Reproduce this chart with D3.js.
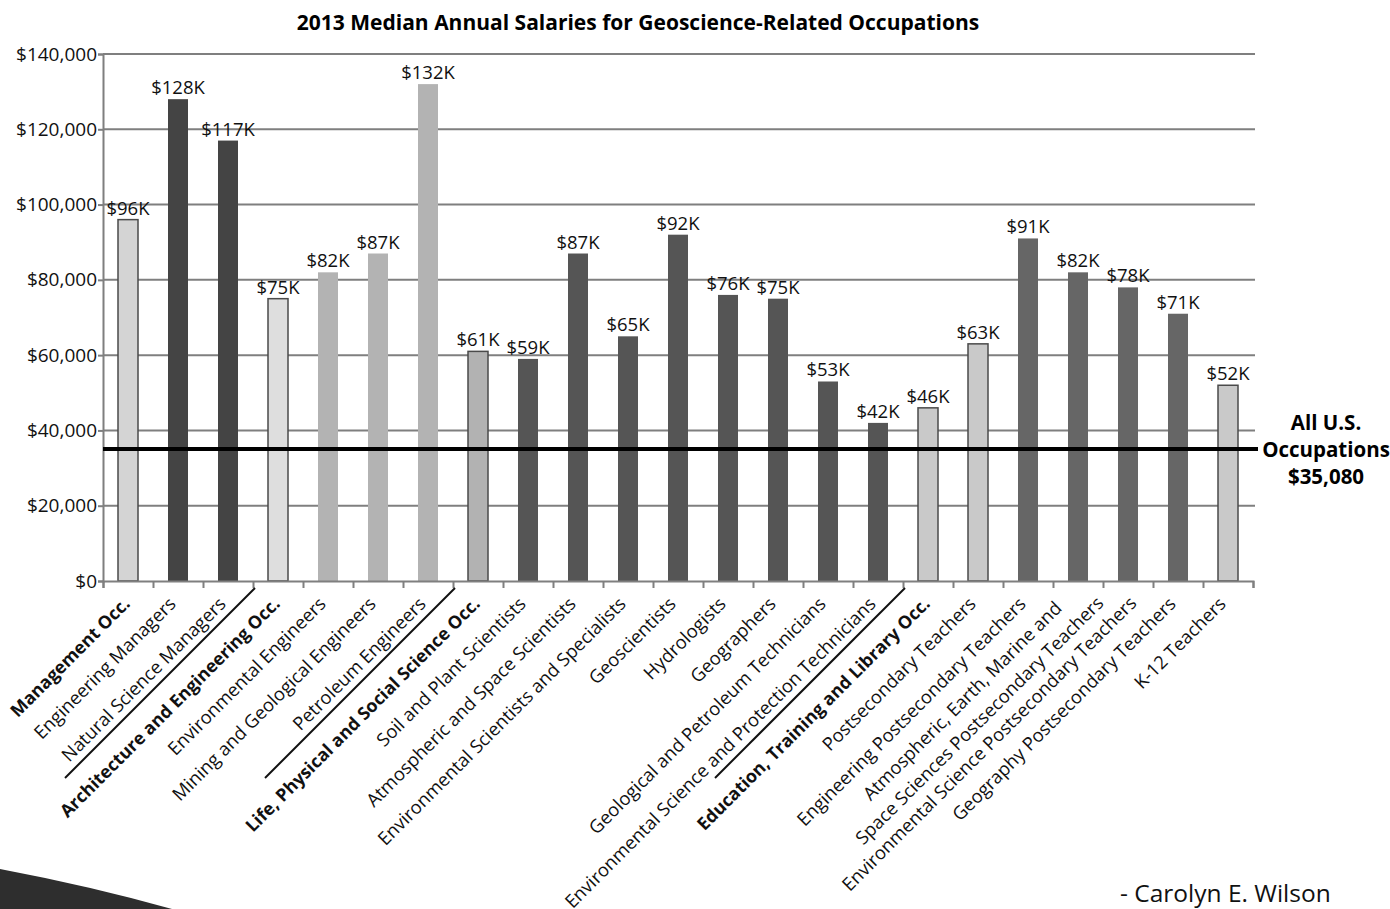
<!DOCTYPE html>
<html>
<head>
<meta charset="utf-8">
<script src="https://cdn.jsdelivr.net/npm/d3@7"></script>
<style>
  body { margin: 0; background: #fff; }
  svg { display: block; font-family: "Open Sans", "Noto Sans", sans-serif; }
</style>
</head>
<body>
<div id="chart-container"></div>
<script>
/**************************************************
 * Data
 **************************************************/

// Occupation categories, in display order
const occupations = [
  "Management Occ.",
  "Engineering Managers",
  "Natural Science Managers",
  "Architecture and Engineering Occ.",
  "Environmental Engineers",
  "Mining and Geological Engineers",
  "Petroleum Engineers",
  "Life, Physical and Social Science Occ.",
  "Soil and Plant Scientists",
  "Atmospheric and Space Scientists",
  "Environmental Scientists and Specialists",
  "Geoscientists",
  "Hydrologists",
  "Geographers",
  "Geological and Petroleum Technicians",
  "Environmental Science and Protection Technicians",
  "Education, Training and Library Occ.",
  "Postsecondary Teachers",
  "Engineering Postsecondary Teachers",
  "Atmospheric, Earth, Marine and Space Sciences Postsecondary Teachers",
  "Environmental Science Postsecondary Teachers",
  "Geography Postsecondary Teachers",
  "K-12 Teachers"
];

// Median annual salary, USD (2013)
const salaries = [
  96000, 128000, 117000,
  75000, 82000, 87000, 132000,
  61000, 59000, 87000, 65000, 92000, 76000, 75000, 53000, 42000,
  46000, 63000, 91000, 82000, 78000, 71000, 52000
];

// Occupation group of each category (index into groupNames)
const groupNames = ["Management", "Architecture and Engineering", "Life, Physical and Social Science", "Education, Training and Library"];
const groupOf = [0, 0, 0, 1, 1, 1, 1, 2, 2, 2, 2, 2, 2, 2, 2, 2, 3, 3, 3, 3, 3, 3, 3];

// Level of each category: major group, summary sub-group, detailed occupation
const levels = [
  "major", "detail", "detail",
  "major", "detail", "detail", "detail",
  "major", "detail", "detail", "detail", "detail", "detail", "detail", "detail", "detail",
  "major", "summary", "detail", "detail", "detail", "detail", "summary"
];

const yTicks = [0, 20000, 40000, 60000, 80000, 100000, 120000, 140000];
const allOccupations = 35080;

/**************************************************
 * Rendering
 **************************************************/

const width = 1390, height = 909;
const margin = { left: 103, right: 137, top: 54, bottom: 328 };
const plotRight = width - margin.right;
const plotBottom = height - margin.bottom;

const svg = d3.select("#chart-container")
  .append("svg")
  .attr("width", width)
  .attr("height", height);

const idx = d3.range(occupations.length);

const xScale = d3.scaleBand()
  .domain(idx)
  .range([margin.left, plotRight])
  .paddingInner(0.6)
  .paddingOuter(0.3);

// boundaries between categories, for tick marks and separators
const xEdge = d3.scaleLinear()
  .domain([0, occupations.length])
  .range([margin.left, plotRight]);

const yScale = d3.scaleLinear()
  .domain([0, 140000])
  .range([plotBottom, margin.top]);

// bar shading per group and level
const detailFill = ["#444444", "#b3b3b3", "#555555", "#666666"];
const majorFill = ["#d4d4d4", "#dedede", "#b2b2b2", "#c9c9c9"];
function barFill(i) {
  if (levels[i] === "detail") return detailFill[groupOf[i]];
  return majorFill[groupOf[i]];
}

// Title
svg.append("text")
  .attr("x", 638)
  .attr("y", 30)
  .attr("text-anchor", "middle")
  .attr("font-size", "21px")
  .attr("font-weight", "bold")
  .text("2013 Median Annual Salaries for Geoscience-Related Occupations");

// Gridlines
svg.append("g")
  .selectAll("line")
  .data(yTicks.slice(1))
  .enter()
  .append("line")
  .attr("x1", margin.left)
  .attr("x2", plotRight + 2)
  .attr("y1", d => yScale(d))
  .attr("y2", d => yScale(d))
  .attr("stroke", "#7f7f7f")
  .attr("stroke-width", 2);

// Y axis
const yAxis = d3.axisLeft(yScale)
  .tickValues(yTicks)
  .tickSize(5)
  .tickPadding(1)
  .tickFormat(d => "$" + d3.format(",")(d));

const gy = svg.append("g")
  .attr("transform", `translate(${margin.left},0)`)
  .call(yAxis);
gy.select(".domain").attr("stroke", "#7f7f7f").attr("stroke-width", 2);
gy.selectAll(".tick line").attr("stroke", "#7f7f7f").attr("stroke-width", 2);
gy.selectAll(".tick text")
  .attr("font-size", "19px")
  .attr("font-family", "Open Sans, sans-serif")
  .attr("fill", "#111");

// Bars
svg.append("g")
  .selectAll("rect")
  .data(idx)
  .enter()
  .append("rect")
  .attr("x", i => xScale(i))
  .attr("y", i => yScale(salaries[i]))
  .attr("width", xScale.bandwidth())
  .attr("height", i => plotBottom - yScale(salaries[i]))
  .attr("fill", barFill)
  .attr("stroke", i => levels[i] === "detail" ? "none" : "#4a4a4a")
  .attr("stroke-width", 1.5);

// Value labels
svg.append("g")
  .selectAll("text")
  .data(idx)
  .enter()
  .append("text")
  .attr("x", i => xScale(i) + xScale.bandwidth() / 2)
  .attr("y", i => yScale(salaries[i]) - 5)
  .attr("text-anchor", "middle")
  .attr("font-size", "18.5px")
  .attr("fill", "#111")
  .text(i => "$" + Math.round(salaries[i] / 1000) + "K");

// X axis with ticks at category boundaries
const xAxis = d3.axisBottom(xEdge)
  .tickValues(d3.range(occupations.length + 1))
  .tickSize(7)
  .tickFormat("");

const gx = svg.append("g")
  .attr("transform", `translate(0,${plotBottom})`)
  .call(xAxis);
gx.select(".domain").attr("stroke", "#7f7f7f").attr("stroke-width", 2);
gx.selectAll(".tick line").attr("stroke", "#7f7f7f").attr("stroke-width", 2);

// Rotated category labels
// the crowded teacher labels are nudged along / across the text direction
const labelNudge = { 20: [8, 7] };

svg.append("g")
  .selectAll("text")
  .data(idx)
  .enter()
  .append("text")
  .attr("transform", i => `translate(${xScale(i) + xScale.bandwidth() / 2 + (levels[i] === "major" ? 3 : -1)},${plotBottom + 24}) rotate(-45)`)
  .attr("text-anchor", "end")
  .attr("font-size", i => levels[i] === "major" ? "17.8px" : "18.4px")
  .attr("font-weight", i => levels[i] === "major" ? "bold" : "normal")
  .attr("fill", "#111")
  .each(function(i) {
    const name = occupations[i];
    const t = d3.select(this);
    // the long teacher label wraps onto two lines in the original
    if (name.startsWith("Atmospheric, Earth")) {
      t.append("tspan").attr("x", -13).attr("y", -7).text("Atmospheric, Earth, Marine and");
      t.append("tspan").attr("x", 20).attr("y", 19).text("Space Sciences Postsecondary Teachers");
    } else {
      const n = labelNudge[i] || [0, 0];
      t.attr("x", n[0]).attr("y", n[1]).text(name);
    }
  });

// Diagonal separators between occupation groups
const groupStarts = idx.filter(i => i > 0 && groupOf[i] !== groupOf[i - 1]);
svg.append("g")
  .selectAll("line")
  .data(groupStarts)
  .enter()
  .append("line")
  .attr("x1", i => xEdge(i) + 2)
  .attr("y1", plotBottom + 7)
  .attr("x2", i => xEdge(i) - 188)
  .attr("y2", plotBottom + 197)
  .attr("stroke", "#111")
  .attr("stroke-width", 2);

// All U.S. occupations reference line
svg.append("line")
  .attr("x1", margin.left)
  .attr("x2", plotRight + 5)
  .attr("y1", yScale(allOccupations))
  .attr("y2", yScale(allOccupations))
  .attr("stroke", "#000")
  .attr("stroke-width", 4);

const refLabel = svg.append("text")
  .attr("x", 1326)
  .attr("y", yScale(allOccupations) - 19)
  .attr("text-anchor", "middle")
  .attr("font-size", "20.5px")
  .attr("font-weight", "bold")
  .attr("fill", "#000");
refLabel.append("tspan").attr("x", 1326).text("All U.S.");
refLabel.append("tspan").attr("x", 1326).attr("dy", 27).text("Occupations");
refLabel.append("tspan").attr("x", 1326).attr("dy", 27).text("$" + d3.format(",")(allOccupations));

// Credit
svg.append("text")
  .attr("x", 1120)
  .attr("y", 902)
  .attr("font-size", "24.5px")
  .attr("fill", "#111")
  .text("- Carolyn E. Wilson");

// Slide decoration, bottom left
svg.append("path")
  .attr("d", "M0,869 Q90,886 172,909 L0,909 Z")
  .attr("fill", "#2e2e2e");
</script>
</body>
</html>
